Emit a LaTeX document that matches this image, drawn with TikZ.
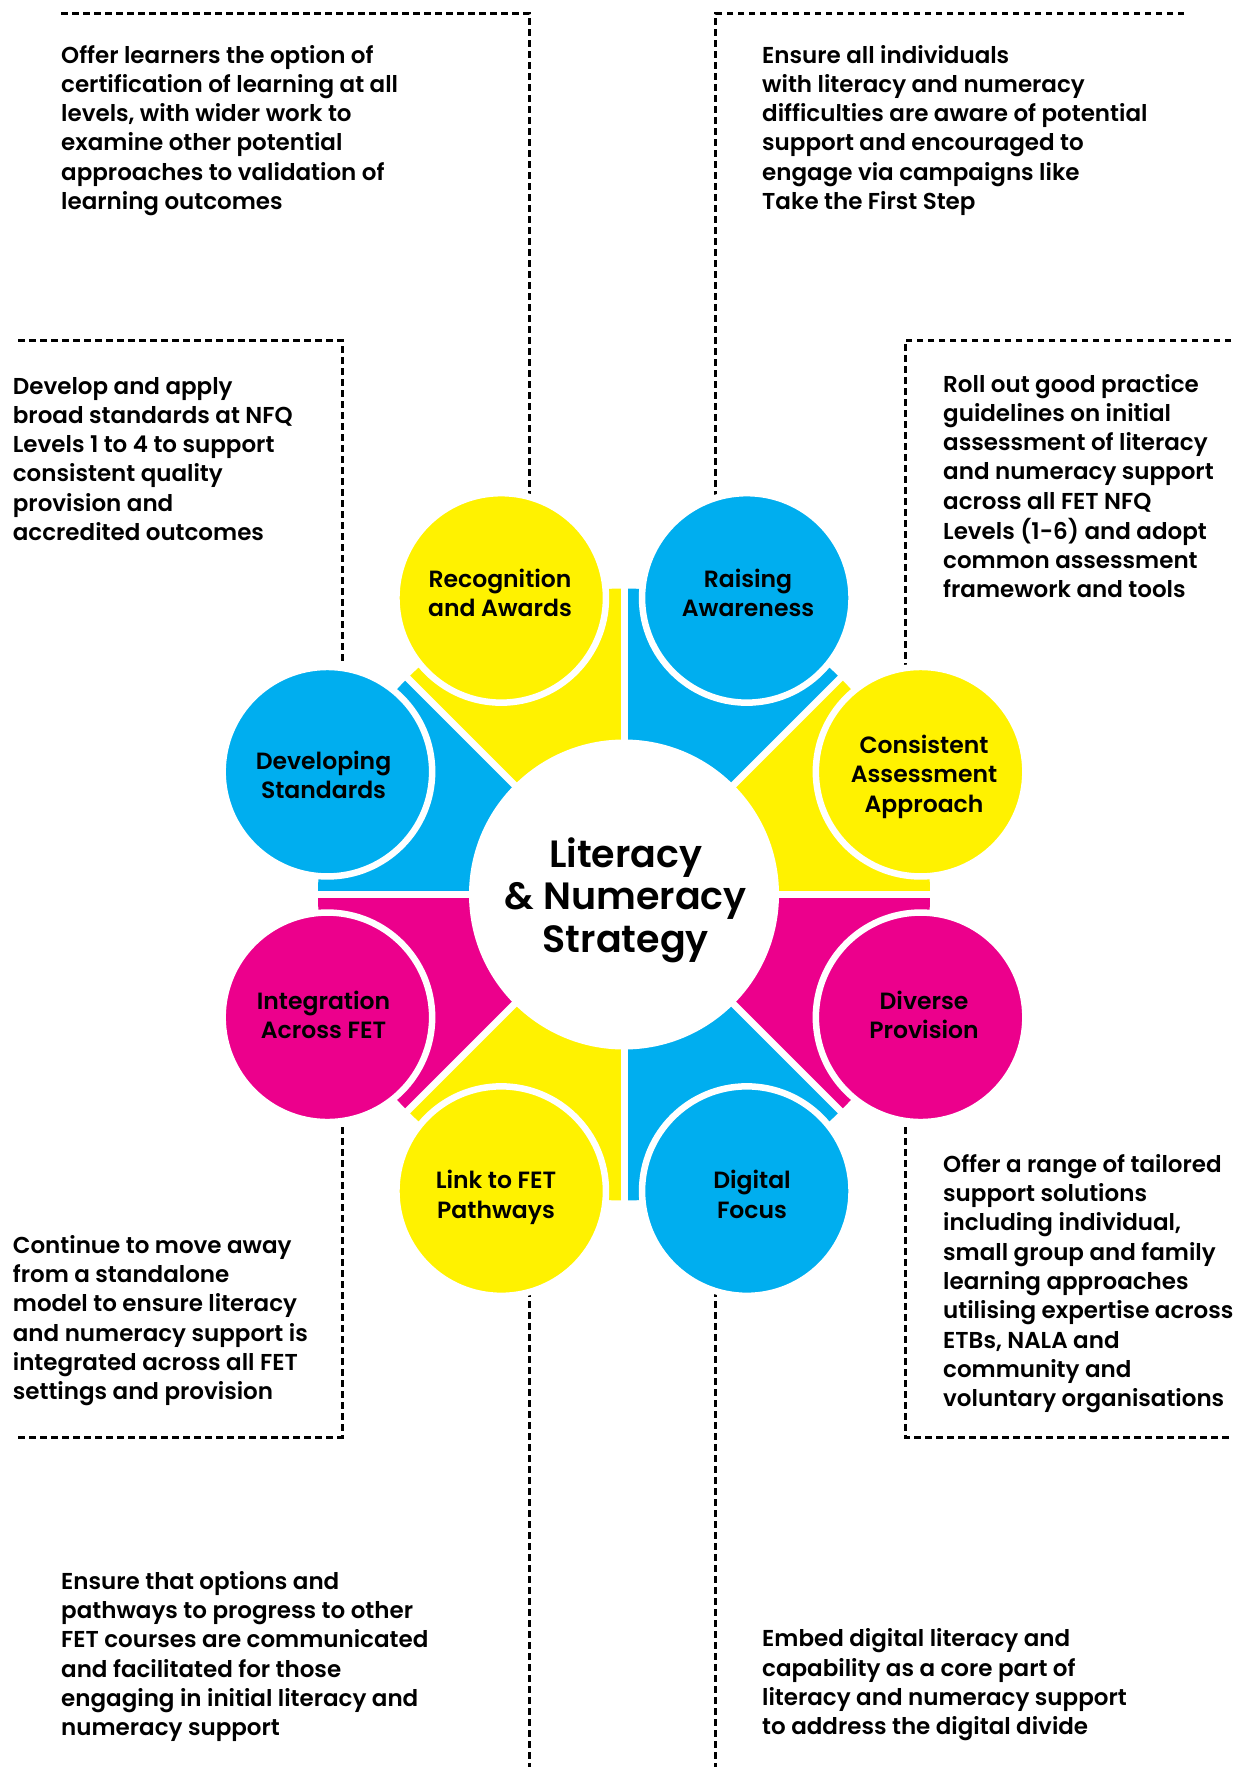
\documentclass[tikz,border=0pt]{standalone}
\usepackage{fontspec}
\setmainfont{Poppins SemiBold}
\definecolor{cyanC}{HTML}{00AEEF}
\definecolor{yellowC}{HTML}{FFF200}
\definecolor{magentaC}{HTML}{EC008C}
\pgfdeclarelayer{bg}
\pgfsetlayers{bg,main}
\newcommand\lnsL[1]{\begin{tabular}[t]{@{}l@{}}#1\end{tabular}}
\newcommand\lnsC[1]{\begin{tabular}[t]{@{}c@{}}#1\end{tabular}}
\begin{document}
\begin{tikzpicture}[x=1pt,y=-1pt,
  leader/.style={line width=3pt, dash pattern=on 6.5pt off 4.5pt, black},
  sat/.style={circle, draw=white, line width=6.5pt, minimum size=209.5pt, inner sep=0pt, outer sep=0pt},
  hub/.style={circle, fill=white, minimum size=310pt, inner sep=0pt, outer sep=0pt},
  lab/.style={anchor=base, inner sep=0pt, font=\fontsize{23.5}{29.3}\selectfont},
  body/.style={anchor=base west, inner sep=0pt, font=\fontsize{23}{29.3}\selectfont},
  ttl/.style={anchor=base, inner sep=0pt, font=\fontsize{38}{42.3}\selectfont}
]
\useasboundingbox (0,0) rectangle (1233,1767);
\coordinate (C) at (624,894.5);
% wedges
\foreach \a/\c in {-22.5/yellowC, -67.5/cyanC, -112.5/yellowC, -157.5/cyanC, 157.5/magentaC, 112.5/yellowC, 67.5/cyanC, 22.5/magentaC}
  \fill[\c] (C) -- ++({\a-22.5}:306) arc[start angle={\a-22.5}, end angle={\a+22.5}, radius=306] -- cycle;
\foreach \a in {0,45,...,315}
  \draw[white, line width=7pt] (C) -- ++(\a:312);
\node[hub] (hub) at (C) {};
% satellites
\node[sat, fill=yellowC]  (con) at (920.6,771.7) {};
\node[sat, fill=cyanC]    (rai) at (746.8,597.9) {};
\node[sat, fill=yellowC]  (rec) at (501.2,597.9) {};
\node[sat, fill=cyanC]    (dev) at (327.4,771.7) {};
\node[sat, fill=magentaC] (int) at (327.4,1017.3) {};
\node[sat, fill=yellowC]  (lnk) at (501.2,1191.1) {};
\node[sat, fill=cyanC]    (dig) at (746.8,1191.1) {};
\node[sat, fill=magentaC] (div) at (920.6,1017.3) {};
% labels
\node[lab] (conT) at (924,753.4) {\lnsC{Consistent\\Assessment\\Approach}};
\node[lab] (raiT) at (748,587.6) {\lnsC{Raising\\Awareness}};
\node[lab] (recT) at (500,587.6) {\lnsC{Recognition\\and Awards}};
\node[lab] (devT) at (323.5,769.3) {\lnsC{Developing\\Standards}};
\node[lab] (intT) at (323.5,1009.3) {\lnsC{Integration\\Across FET}};
\node[lab] (lnkT) at (496,1188.7) {\lnsC{Link to FET\\Pathways}};
\node[lab] (digT) at (752,1188.7) {\lnsC{Digital\\Focus}};
\node[lab] (divT) at (924,1009.3) {\lnsC{Diverse\\Provision}};
\node[ttl] (title) at (625.8,867.5) {\lnsC{Literacy\\\& Numeracy\\Strategy}};
% text blocks
\node[body] (tl) at (61,63) {\lnsL{Offer learners the option of\\certification of learning at all\\levels, with wider work to\\examine other potential\\approaches to validation of\\learning outcomes}};
\node[body] (tr) at (762,63) {\lnsL{Ensure all individuals\\with literacy and numeracy\\difficulties are aware of potential\\support and encouraged to\\engage via campaigns like\\Take the First Step}};
\node[body] (ml) at (12.7,394) {\lnsL{Develop and apply\\broad standards at NFQ\\Levels 1 to 4 to support\\consistent quality\\provision and\\accredited outcomes}};
\node[body] (mr) at (943,392) {\lnsL{Roll out good practice\\guidelines on initial\\assessment of literacy\\and numeracy support\\across all FET NFQ\\Levels (1-6) and adopt\\common assessment\\framework and tools}};
\node[body] (ll) at (12.7,1253.3) {\lnsL{Continue to move away\\from a standalone\\model to ensure literacy\\and numeracy support is\\integrated across all FET\\settings and provision}};
\node[body] (lr) at (943,1172.3) {\lnsL{Offer a range of tailored\\support solutions\\including individual,\\small group and family\\learning approaches\\utilising expertise across\\ETBs, NALA and\\community and\\voluntary organisations}};
\node[body] (bl) at (61,1589.3) {\lnsL{Ensure that options and\\pathways to progress to other\\FET courses are communicated\\and facilitated for those\\engaging in initial literacy and\\numeracy support}};
\node[body] (br) at (762,1646.7) {\lnsL{Embed digital literacy and\\capability as a core part of\\literacy and numeracy support\\to address the digital divide}};
% leader lines
\begin{pgfonlayer}{bg}
\fill[white] (0,0) rectangle (1233,1767);
\coordinate (a1) at (61,13.5);   \coordinate (a2) at (529.5,13.5);
\coordinate (b1) at (1184,13.5); \coordinate (b2) at (715.5,13.5);
\coordinate (c1) at (18,340);    \coordinate (c2) at (342,340);
\coordinate (d1) at (1231,340);  \coordinate (d2) at (905,340);
\coordinate (e1) at (18,1437);   \coordinate (e2) at (342,1437);
\coordinate (f1) at (1231,1437); \coordinate (f2) at (905,1437);
\coordinate (g1) at (529.5,1767);
\coordinate (h1) at (715.5,1767);
\draw[leader] (a1) -- (a2) -- (a2 |- rec.center);
\draw[leader] (b1) -- (b2) -- (b2 |- rai.center);
\draw[leader] (c1) -- (c2) -- (c2 |- dev.center);
\draw[leader] (d1) -- (d2) -- (d2 |- con.center);
\draw[leader] (int.center -| e2) -- (e2) -- (e1);
\draw[leader] (div.center -| f2) -- (f2) -- (f1);
\draw[leader] (lnk.center -| g1) -- (g1);
\draw[leader] (dig.center -| h1) -- (h1);
\end{pgfonlayer}
\end{tikzpicture}
\end{document}
